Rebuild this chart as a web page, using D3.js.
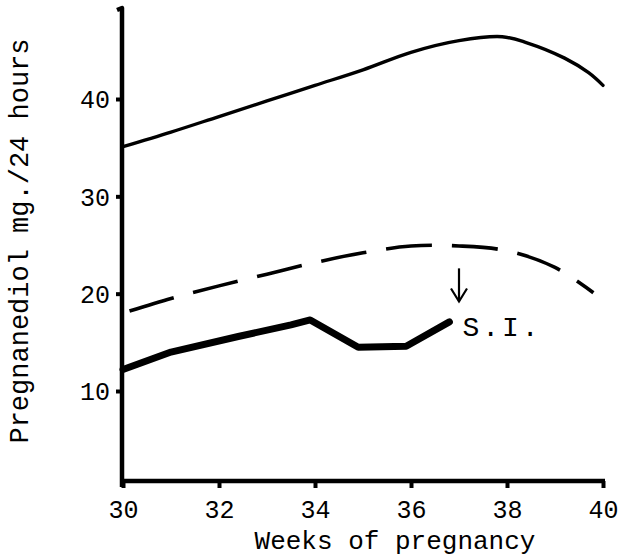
<!DOCTYPE html>
<html>
<head>
<meta charset="utf-8">
<script src="https://cdn.jsdelivr.net/npm/d3@7"></script>
<style>
  html, body { margin: 0; padding: 0; background: #fff; }
  svg { display: block; }
  text { font-family: "Liberation Mono", "Courier New", Courier, monospace; fill: #000; }
</style>
</head>
<body>
<svg id="chart" width="620" height="560"></svg>
<script>
// Weeks of pregnancy shown on the horizontal axis
const xTicks = [30, 32, 34, 36, 38, 40];
// Pregnanediol levels marked on the vertical axis
const yTicks = [10, 20, 30, 40];

// Upper curve (thin solid)
const upperWeeks  = [30, 31, 32, 33, 34, 35, 36, 37, 37.9, 38.4, 39.2, 39.7, 40];
const upperValues = [35.1, 36.6, 38.2, 39.8, 41.4, 43.0, 44.8, 46.0, 46.4, 45.8, 44.2, 42.7, 41.4];

// Middle curve (dashed)
const middleWeeks  = [30, 31, 32, 33, 34, 35, 36, 37, 38, 39, 39.8];
const middleValues = [18.0, 19.5, 20.8, 22.0, 23.2, 24.2, 24.9, 24.9, 24.4, 22.7, 20.1];

// Patient's excretion (heavy solid), ending at S.I.
const patientWeeks  = [30, 31, 32.4, 33.5, 33.9, 34.9, 35.9, 36.8];
const patientValues = [12.2, 14.0, 15.6, 16.8, 17.3, 14.5, 14.6, 17.1];

// S.I. marker
const siWeek = 37.0;
const siArrowFrom = 22.6;
const siArrowTo = 19.2;
const siLabel = "S.I.";

const svg = d3.select("#chart");

const x = d3.scaleLinear().domain([30, 40]).range([123, 603]);
const y = d3.scaleLinear().domain([10, 40]).range([391, 99]);

const axisLeftX = 122, axisBottomY = 481, axisTopY = 8, axisRightX = 605;

const ink = "#000";

// Axes lines
svg.append("path")
  .attr("d", `M${axisLeftX - 5},${axisTopY + 2} L${axisLeftX},${axisTopY} L${axisLeftX},${axisBottomY + 6}`)
  .attr("fill", "none").attr("stroke", ink).attr("stroke-width", 4.5)
  .attr("stroke-linejoin", "round");
svg.append("line")
  .attr("x1", axisLeftX).attr("x2", axisRightX)
  .attr("y1", axisBottomY).attr("y2", axisBottomY)
  .attr("stroke", ink).attr("stroke-width", 4.5);

// Y axis ticks and labels
const yAxis = d3.axisLeft(y).tickValues(yTicks).tickSize(6).tickPadding(6);
const gy = svg.append("g").attr("transform", `translate(${axisLeftX},0)`).call(yAxis);
gy.select(".domain").remove();
gy.selectAll(".tick line").attr("stroke", ink).attr("stroke-width", 4);
gy.selectAll(".tick text").attr("font-size", 25).attr("fill", ink).attr("dy", "0.35em");

// X axis ticks and labels
const xAxis = d3.axisBottom(x).tickValues(xTicks).tickSize(7).tickPadding(12);
const gx = svg.append("g").attr("transform", `translate(0,${axisBottomY})`).call(xAxis);
gx.select(".domain").remove();
gx.selectAll(".tick line").attr("stroke", ink).attr("stroke-width", 4);
gx.selectAll(".tick text").attr("font-size", 25).attr("fill", ink);

// Axis titles
svg.append("text")
  .attr("x", 395).attr("y", 549)
  .attr("text-anchor", "middle")
  .attr("font-size", 26)
  .text("Weeks of pregnancy");

svg.append("text")
  .attr("transform", "translate(28,241) rotate(-90)")
  .attr("text-anchor", "middle")
  .attr("font-size", 27)
  .text("Pregnanediol mg./24 hours");

// Lines
const smooth = d3.line()
  .x(d => x(d[0])).y(d => y(d[1]))
  .curve(d3.curveCatmullRom.alpha(0.5));
const straight = d3.line()
  .x(d => x(d[0])).y(d => y(d[1]));

svg.append("path")
  .datum(d3.zip(upperWeeks, upperValues))
  .attr("d", smooth)
  .attr("fill", "none").attr("stroke", ink).attr("stroke-width", 3.4)
  .attr("stroke-linecap", "round");

svg.append("path")
  .datum(d3.zip(middleWeeks, middleValues))
  .attr("d", smooth)
  .attr("fill", "none").attr("stroke", ink).attr("stroke-width", 3.6)
  .attr("stroke-dasharray", "46,20")
  .attr("stroke-dashoffset", 59)
  .attr("stroke-linecap", "butt");

svg.append("path")
  .datum(d3.zip(patientWeeks, patientValues))
  .attr("d", straight)
  .attr("fill", "none").attr("stroke", ink).attr("stroke-width", 7)
  .attr("stroke-linecap", "round").attr("stroke-linejoin", "round");

// S.I. arrow and label
const ax = x(siWeek);
const ay0 = y(siArrowFrom), ay1 = y(siArrowTo);
svg.append("line")
  .attr("x1", ax).attr("x2", ax).attr("y1", ay0).attr("y2", ay1)
  .attr("stroke", ink).attr("stroke-width", 2.2);
svg.append("path")
  .attr("d", `M${ax - 8},${ay1 - 13} L${ax},${ay1} L${ax + 8},${ay1 - 13}`)
  .attr("fill", "none").attr("stroke", ink).attr("stroke-width", 2.2)
  .attr("stroke-linejoin", "miter");

const last = patientWeeks.length - 1;
svg.append("text")
  .attr("x", x(patientWeeks[last]) + 13)
  .attr("y", y(patientValues[last]) + 14)
  .attr("font-size", 28)
  .attr("letter-spacing", 3)
  .text(siLabel);
</script>
</body>
</html>
